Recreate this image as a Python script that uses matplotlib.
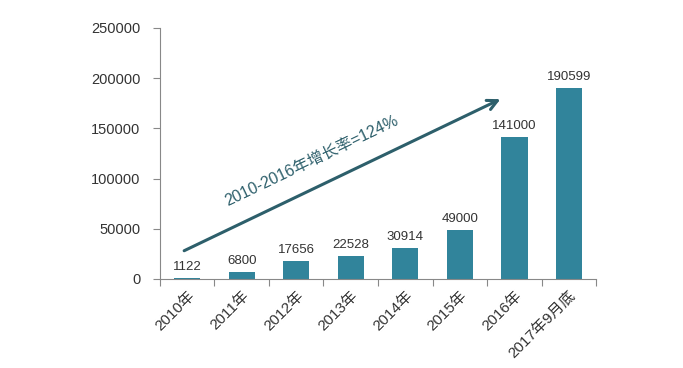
import matplotlib
matplotlib.use("Agg")
from matplotlib import pyplot as plt
import numpy as np

plt.rcParams['font.family'] = ['Liberation Sans', 'Noto Sans CJK SC', 'DejaVu Sans']

categories = ["2010年", "2011年", "2012年", "2013年", "2014年", "2015年", "2016年", "2017年9月底"]
values = [1122, 6800, 17656, 22528, 30914, 49000, 141000, 190599]
y_ticks = [0, 50000, 100000, 150000, 200000, 250000]
growth_text = "2010-2016年增长率=124%"

bar_color = "#31849B"
arrow_color = "#2D5F6B"
text_color = "#333333"

fig = plt.figure(figsize=(6.83, 3.68), dpi=100)
ax = fig.add_axes([0.234, 0.242, 0.639, 0.682])

x = np.arange(len(categories))
ax.bar(x, values, width=0.48, color=bar_color, zorder=2)
for xi, v in zip(x, values):
    ax.text(xi, v + 5000, str(v), ha="center", va="bottom", fontsize=9.5, color=text_color)

ax.set_xlim(-0.5, len(categories) - 0.5)
ax.set_ylim(0, 250000)
ax.set_yticks(y_ticks)
ax.set_yticklabels([str(t) for t in y_ticks], fontsize=10.5, color=text_color)

# ticks at category boundaries, labels at centers
ax.set_xticks(np.arange(len(categories) + 1) - 0.5)
ax.set_xticklabels([])
ax.set_xticks(x, minor=True)
ax.set_xticklabels(categories, minor=True, rotation=45, ha="right",
                   rotation_mode="anchor", fontsize=11, color=text_color)
ax.tick_params(axis="x", which="minor", length=0, pad=7)
ax.tick_params(axis="x", which="major", length=5, color="#888888")
ax.tick_params(axis="y", length=5, color="#888888", pad=9)

for side in ("top", "right"):
    ax.spines[side].set_visible(False)
for side in ("left", "bottom"):
    ax.spines[side].set_color("#888888")

ax.annotate("", xy=(5.79, 180300), xytext=(-0.1, 26900),
            arrowprops=dict(arrowstyle="->", color=arrow_color, lw=2.2,
                            mutation_scale=18), zorder=3)
ax.text(2.29, 117500, growth_text, rotation=25.6, ha="center", va="center",
        fontsize=11.5, color=arrow_color, rotation_mode="anchor")

fig.savefig("out.png", dpi=100)
